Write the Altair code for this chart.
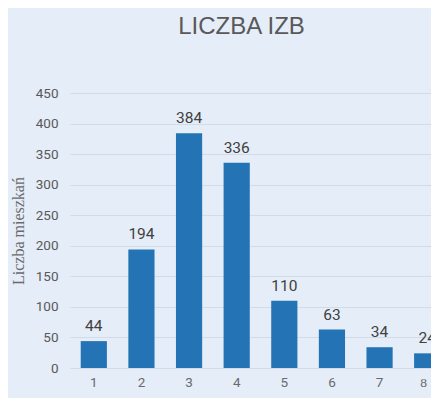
import altair as alt
import pandas as pd

categories = ["1", "2", "3", "4", "5", "6", "7", "8 i więcej"]
values = [44, 194, 384, 336, 110, 63, 34, 24]

df = pd.DataFrame({"izby": categories, "liczba": values})

BG = "#e5edf8"
BAR = "#2474b5"

x_enc = alt.X(
    "izby:N",
    sort=categories,
    title=None,
    scale=alt.Scale(range=[0, 381], paddingInner=0.45, paddingOuter=0.225),
    axis=alt.Axis(
        labelAngle=0,
        domain=False,
        ticks=False,
        labelPadding=7,
        labelFontSize=13.5,
        labelColor="#6a6a6a",
        labelFont={"condition": {"test": "datum.value == '8 i więcej'", "value": "Liberation Serif"}, "value": "Roboto"},
        labelExpr="datum.label == '8 i więcej' ? ['8 i', 'więcej'] : datum.label",
        labelLineHeight=19,
        labelOverlap=False,
    ),
)

y_enc = alt.Y(
    "liczba:Q",
    title="Liczba mieszkań",
    scale=alt.Scale(domain=[0, 450], nice=False),
    axis=alt.Axis(
        values=list(range(0, 451, 50)),
        labelOverlap=False,
        domain=False,
        ticks=False,
        labelPadding=12,
        labelFont="Roboto",
        labelFontSize=13.5,
        labelColor="#595959",
        gridColor="#d3dbe6",
        gridWidth=1,
        titleFont="Liberation Serif",
        titleFontSize=16,
        titleFontWeight="normal",
        titleColor="#6a6a6a",
        titlePadding=9,
    ),
)

bars = alt.Chart(df).mark_bar(color=BAR).encode(x=x_enc, y=y_enc)

labels = alt.Chart(df).mark_text(
    fontSize=15.5, color="#404040", font="Roboto", dy=-10, baseline="alphabetic"
).encode(
    x=x_enc,
    y=y_enc,
    text="liczba:Q",
)

chart = (
    alt.layer(bars, labels)
    .properties(
        width=361,
        height=275,
        background=BG,
        padding={"left": 62, "top": 85, "right": 0, "bottom": 30},
        autosize=alt.AutoSizeParams(type="none"),
        title=alt.TitleParams(
            "LICZBA IZB",
            font="Liberation Sans",
            fontSize=24,
            fontWeight="normal",
            color="#595959",
            anchor="middle",
            dx=-9,
            offset=47,
        ),
    )
    .configure_view(stroke=None)
)

chart.save("out.html", embed_options={"renderer": "svg", "actions": False})
